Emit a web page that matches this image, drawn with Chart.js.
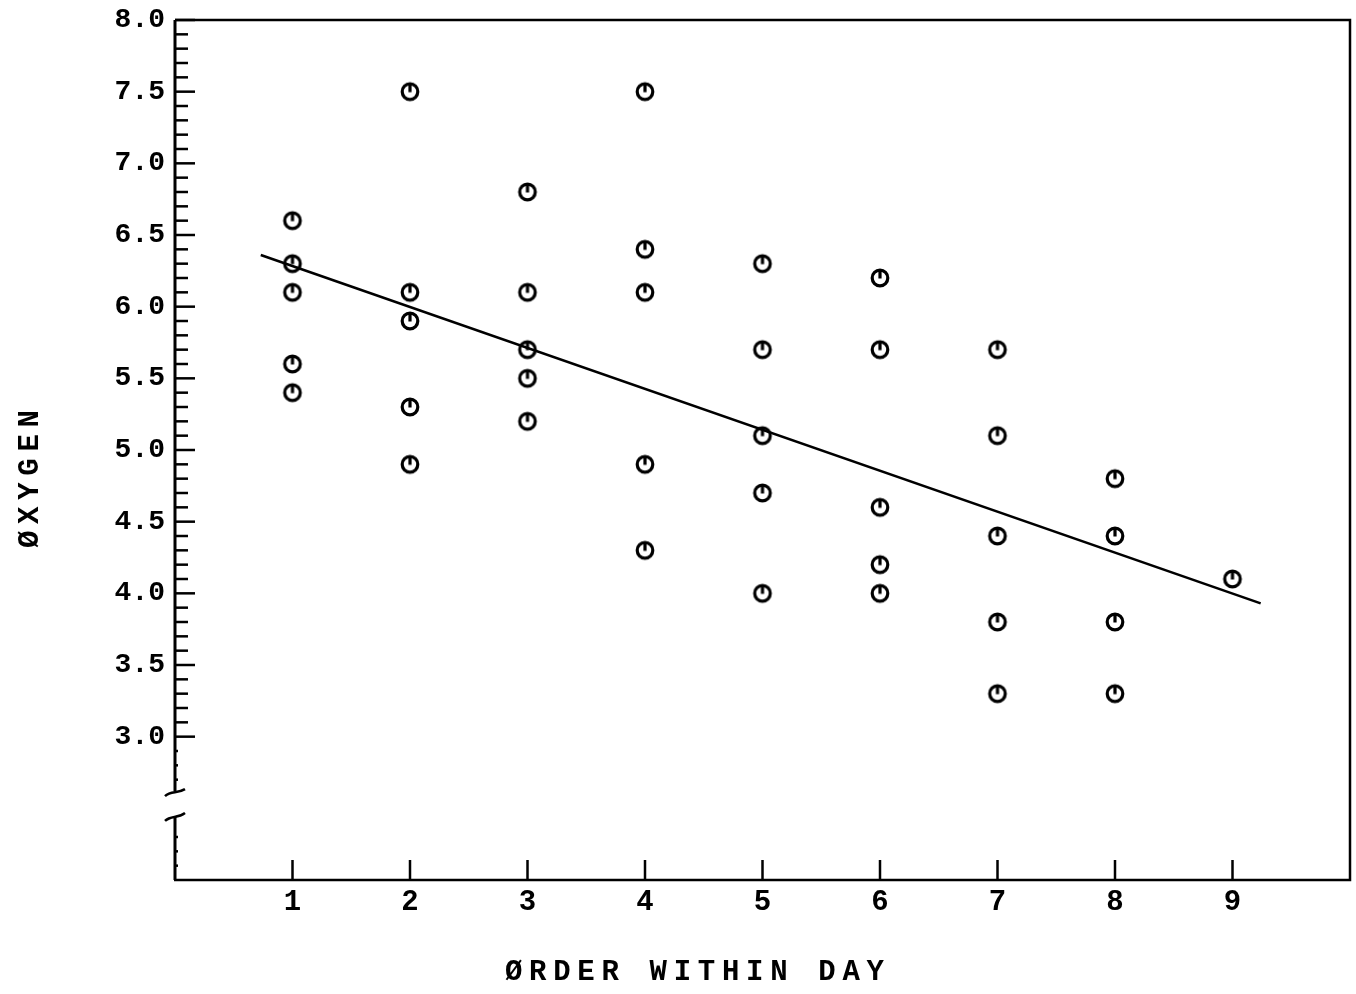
<!DOCTYPE html>
<html>
<head>
<meta charset="utf-8">
<script src="https://cdn.jsdelivr.net/npm/chart.js@4.4.1/dist/chart.umd.min.js"></script>
<style>
  html, body { margin: 0; padding: 0; background: #fff; overflow: hidden; }
  #chart { display: block; }
</style>
</head>
<body>
<canvas id="chart" width="1356" height="994"></canvas>
<script>
// Data
const orderValues  = [1, 1, 1, 1, 1,  2, 2, 2, 2, 2,  3, 3, 3, 3, 3,  4, 4, 4, 4, 4,
                      5, 5, 5, 5, 5,  6, 6, 6, 6, 6,  7, 7, 7, 7, 7,  8, 8, 8, 8,  9];
const oxygenValues = [6.6, 6.3, 6.1, 5.6, 5.4,  7.5, 6.1, 5.9, 5.3, 4.9,  6.8, 6.1, 5.7, 5.5, 5.2,
                      7.5, 6.4, 6.1, 4.9, 4.3,  6.3, 5.7, 5.1, 4.7, 4.0,  6.2, 5.7, 4.6, 4.2, 4.0,
                      5.7, 5.1, 4.4, 3.8, 3.3,  4.8, 4.4, 3.8, 3.3,  4.1];

// fitted line, end points as drawn
const fitX = [0.73, 9.24];
const fitY = [6.36, 3.93];

// tick labels
const xTickValues = [1, 2, 3, 4, 5, 6, 7, 8, 9];
const yTickLabels = ['3.0', '3.5', '4.0', '4.5', '5.0', '5.5', '6.0', '6.5', '7.0', '7.5', '8.0'];

const xTitle = 'ØRDER WITHIN DAY';
const yTitle = 'ØXYGEN';

const FONT = '"Liberation Mono", "DejaVu Sans Mono", monospace';

// circle marker with a little stroke from the top, like the plotter symbol
function makeMarker() {
    const c = document.createElement('canvas');
    c.width = 26; c.height = 26;
    const g = c.getContext('2d');
    g.strokeStyle = '#000';
    g.lineWidth = 3.2;
    g.beginPath();
    g.arc(13, 13, 7.8, 0, Math.PI * 2);
    g.stroke();
    g.beginPath();
    g.moveTo(13, 6);
    g.lineTo(13, 13.5);
    g.stroke();
    return c;
}

const points = orderValues.map((x, i) => ({ x: x, y: oxygenValues[i] }));
const fitLine = fitX.map((x, i) => ({ x: x, y: fitY[i] }));

// frame, inward ticks, axis break and axis titles
const plotterFrame = {
    id: 'plotterFrame',
    afterDraw(chart) {
        const { ctx, chartArea: a, scales: { x, y } } = chart;
        ctx.save();
        ctx.strokeStyle = '#000';
        ctx.lineWidth = 2.5;

        // top, right, bottom
        ctx.beginPath();
        ctx.moveTo(a.left, a.top);
        ctx.lineTo(a.right, a.top);
        ctx.lineTo(a.right, a.bottom);
        ctx.lineTo(a.left - 1, a.bottom);
        ctx.stroke();

        // left axis, broken below 3.0
        const hi = y.getPixelForValue(2.62);
        const lo = y.getPixelForValue(2.44);
        ctx.lineWidth = 3;
        ctx.beginPath();
        ctx.moveTo(a.left, a.top);
        ctx.lineTo(a.left, hi);
        ctx.moveTo(a.left, lo);
        ctx.lineTo(a.left, a.bottom);
        ctx.stroke();

        // break marks
        ctx.lineWidth = 2.5;
        ctx.beginPath();
        ctx.moveTo(a.left - 10, hi + 5);
        ctx.bezierCurveTo(a.left - 4, hi - 1, a.left + 2, hi + 3, a.left + 10, hi - 2);
        ctx.stroke();
        ctx.beginPath();
        ctx.moveTo(a.left - 10, lo + 4);
        ctx.bezierCurveTo(a.left - 4, lo - 2, a.left + 2, lo + 2, a.left + 10, lo - 4);
        ctx.stroke();

        // y ticks, every 0.1
        for (let i = 21; i <= 80; i++) {
            if (i >= 24 && i <= 26) continue;
            const py = y.getPixelForValue(i / 10);
            let len = 3;
            if (i >= 30) len = (i % 5 === 0) ? 20 : 13;
            ctx.beginPath();
            ctx.moveTo(a.left, py);
            ctx.lineTo(a.left + len, py);
            ctx.stroke();
        }

        // x ticks
        xTickValues.forEach(v => {
            const px = x.getPixelForValue(v);
            ctx.beginPath();
            ctx.moveTo(px, a.bottom);
            ctx.lineTo(px, a.bottom - 20);
            ctx.stroke();
        });

        // axis titles
        ctx.fillStyle = '#000';
        ctx.font = 'bold 29px ' + FONT;
        ctx.letterSpacing = '6.7px';
        ctx.textAlign = 'left';
        ctx.textBaseline = 'alphabetic';
        ctx.fillText(xTitle, 505, 980);

        ctx.translate(38, 548);
        ctx.rotate(-Math.PI / 2);
        ctx.fillText(yTitle, 0, 0);
        ctx.restore();
    }
};

new Chart(document.getElementById('chart'), {
    type: 'scatter',
    data: {
        datasets: [
            {
                label: 'Oxygen',
                data: points,
                pointStyle: makeMarker(),
                pointRadius: 9,
                pointHoverRadius: 9
            },
            {
                type: 'line',
                label: 'Fit',
                data: fitLine,
                borderColor: '#000',
                borderWidth: 2.6,
                pointRadius: 0,
                fill: false,
                tension: 0
            }
        ]
    },
    options: {
        responsive: false,
        animation: false,
        devicePixelRatio: 1,
        layout: { autoPadding: false, padding: { top: 20, right: 6, left: 0, bottom: 0 } },
        plugins: {
            legend: { display: false },
            tooltip: { enabled: false }
        },
        scales: {
            x: {
                type: 'linear',
                min: 0,
                max: 10,
                grid: { display: false, drawTicks: false },
                border: { display: false },
                ticks: {
                    stepSize: 1,
                    autoSkip: false,
                    maxRotation: 0,
                    padding: 5,
                    color: '#000',
                    font: { family: FONT, size: 29, weight: 'bold' },
                    callback: v => xTickValues.includes(v) ? String(v) : ''
                },
                afterFit: s => {
                    s.height = 114;
                    s.paddingLeft = 0;
                    s.paddingRight = 0;
                }
            },
            y: {
                type: 'linear',
                min: 2,
                max: 8,
                grid: { display: false, drawTicks: false },
                border: { display: false },
                ticks: {
                    stepSize: 0.5,
                    autoSkip: false,
                    padding: 10,
                    color: '#000',
                    font: { family: FONT, size: 28, weight: 'bold' },
                    callback: v => {
                        const t = Number(v).toFixed(1);
                        return yTickLabels.includes(t) ? t : '';
                    }
                },
                afterFit: s => {
                    s.width = 175;
                    s.paddingTop = 0;
                    s.paddingBottom = 0;
                }
            }
        }
    },
    plugins: [plotterFrame]
});
</script>
</body>
</html>
